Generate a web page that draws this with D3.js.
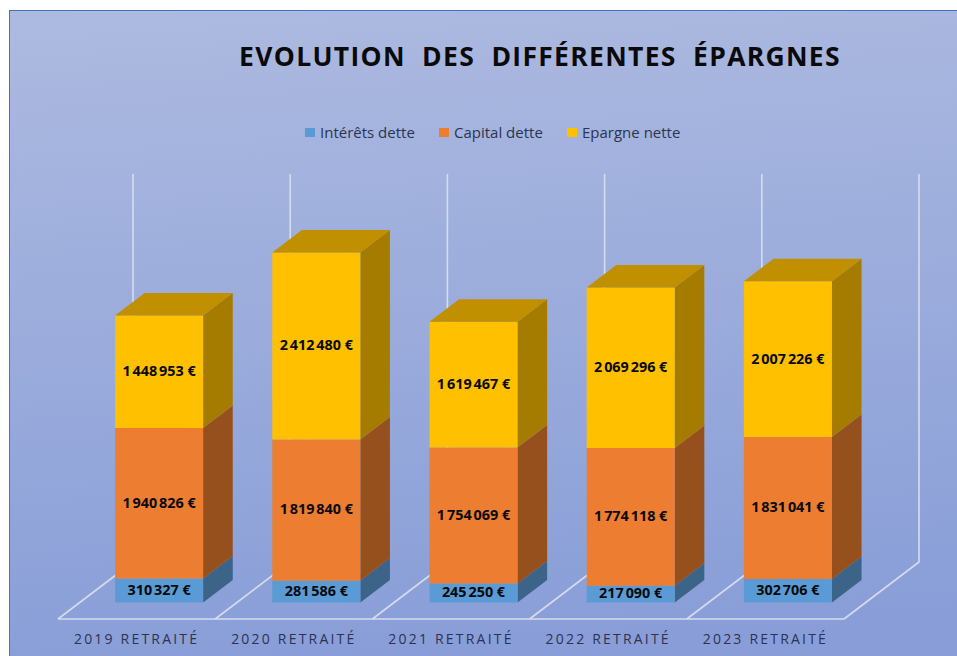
<!DOCTYPE html>
<html><head><meta charset="utf-8">
<script src="https://cdn.jsdelivr.net/npm/d3@7"></script>
<style>html,body{margin:0;padding:0;background:#fff}svg{display:block}</style>
</head><body><svg id="c" width="957" height="656"></svg>
<script>
const categories = ["2019 RETRAITÉ","2020 RETRAITÉ","2021 RETRAITÉ","2022 RETRAITÉ","2023 RETRAITÉ"];
const seriesNames = ["Intérêts dette","Capital dette","Epargne nette"];
const interets = [310327,281586,245250,217090,302706];
const capital = [1940826,1819840,1754069,1774118,1831041];
const epargne = [1448953,2412480,1619467,2069296,2007226];
const titleText = "EVOLUTION  DES  DIFFÉRENTES  ÉPARGNES";

const svg = d3.select("#c");
const W=957,H=656;
const defs = svg.append("defs");
const g = defs.append("linearGradient").attr("id","bg").attr("x1",0).attr("y1",0).attr("x2",0.1).attr("y2",1);
g.append("stop").attr("offset",0).attr("stop-color","#adbae0");
g.append("stop").attr("offset",1).attr("stop-color","#899ed8");
svg.append("rect").attr("x",9.5).attr("y",10.5).attr("width",W).attr("height",H)
  .attr("fill","url(#bg)").attr("stroke","#4472c4").attr("stroke-width",1);

const fx0=58, fx1=844, floorY=619, depthX=75, depthY=-57, topY=174;
const x = d3.scaleBand().domain(categories).range([fx0,fx1]).paddingInner(0.44).paddingOuter(0.22);
const y = d3.scaleLinear().domain([0,1e6]).range([0,77.55]);
const barOff=0.29, barDepth=0.395;
const baseY = floorY+depthY*barOff, baseDX = depthX*0.3;
const bx = c => x(c)+baseDX;
const ddx = depthX*barDepth, ddy = depthY*barDepth;

// floor and back wall
const grid = svg.append("g").attr("fill","none").attr("stroke","#d6dcee").attr("stroke-width",1.6);
const ticks = d3.range(categories.length+1).map(i=>fx0+i*x.step());
ticks.forEach((t,i)=>{
  grid.append("path").attr("d",d3.line()([[t,floorY],[t+depthX,floorY+depthY],[t+depthX,topY]]));
});
grid.append("path").attr("d",d3.line()([[fx0,floorY],[fx1,floorY]]));

const colors=[
 {front:"#5b9bd5",side:"#3b6488",top:"#3f6f9c"},
 {front:"#ed7d31",side:"#95501e",top:"#b25d24"},
 {front:"#ffc000",side:"#a57c00",top:"#c09000"}];
const values=[interets,capital,epargne];
const barsG = svg.append("g");
const poly=(pts,fill)=>barsG.append("polygon").attr("points",pts.map(p=>p.join(",")).join(" ")).attr("fill",fill);
const fmt = v => d3.format(",")(v).replace(/,/g,"\u202f")+" €";
categories.forEach((c,i)=>{
  let cum=0;
  const w=x.bandwidth(), l=bx(c);
  values.forEach((vals,s)=>{
    const v=vals[i], y0=baseY-y(cum), y1=baseY-y(cum+v);
    poly([[l+w,y0],[l+w+ddx,y0+ddy],[l+w+ddx,y1+ddy],[l+w,y1]],colors[s].side);
    poly([[l,y1],[l+w,y1],[l+w,y0],[l,y0]],colors[s].front);
    if(s===values.length-1) poly([[l,y1],[l+ddx,y1+ddy],[l+w+ddx,y1+ddy],[l+w,y1]],colors[s].top);
    barsG.append("text").attr("x",l+w/2).attr("y",(y0+y1)/2+0.5).attr("text-anchor","middle").attr("dominant-baseline","middle")
      .attr("font-family","'Open Sans',sans-serif").attr("font-weight",700).attr("font-size",14.4).attr("letter-spacing",-0.4).attr("fill","#0a0a0a").text(fmt(v));
    cum+=v;
  });
});

// category labels
svg.append("g").selectAll("text").data(categories).join("text")
  .attr("x",c=>x(c)+x.bandwidth()/2).attr("y",644).attr("text-anchor","middle")
  .attr("font-family","'Open Sans',sans-serif").attr("font-size",14).attr("letter-spacing",2.2).attr("fill","#2c3350").text(c=>c);

// title
svg.append("text").attr("x",540).attr("y",66).attr("text-anchor","middle").attr("xml:space","preserve").style("white-space","pre")
  .attr("font-family","'Open Sans',sans-serif").attr("font-weight",700).attr("font-size",26.5).attr("letter-spacing",1.3).attr("fill","#0a0a0a").text(titleText);

// legend
const legendX=[305,439,567];
const lg=svg.append("g").selectAll("g").data(seriesNames).join("g").attr("transform",(d,i)=>`translate(${legendX[i]},0)`);
lg.append("rect").attr("y",128).attr("width",10).attr("height",9).attr("fill",(d,i)=>colors[i].front);
lg.append("text").attr("x",15).attr("y",138).attr("font-family","'Open Sans',sans-serif").attr("font-size",15).attr("fill","#2c3350").text(d=>d);
</script></body></html>
